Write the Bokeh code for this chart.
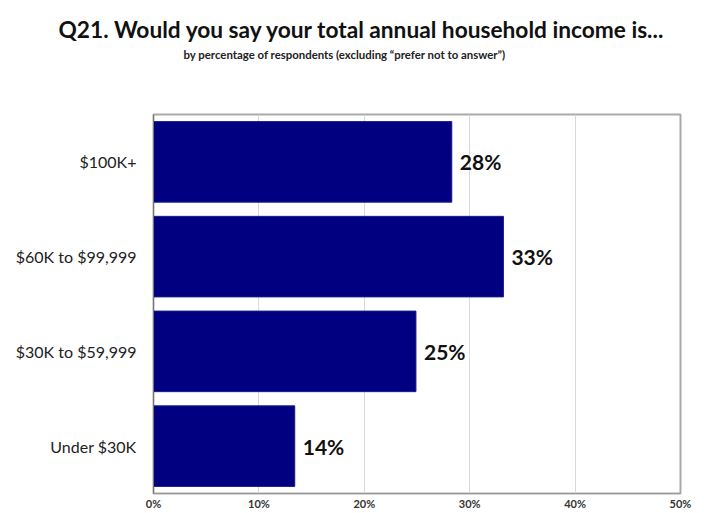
from bokeh.plotting import figure
from bokeh.models import Title, FixedTicker, PrintfTickFormatter, ColumnDataSource, FactorRange
from bokeh.core.properties import value
from bokeh.embed import file_html
from bokeh.resources import INLINE

categories = ["Under $30K", "$30K to $59,999", "$60K to $99,999", "$100K+"]
percentages = [13.4, 24.9, 33.2, 28.3]
value_labels = ["14%", "25%", "33%", "28%"]
x_ticks = [0, 10, 20, 30, 40, 50]

FONT = "Lato"

src = ColumnDataSource(dict(cat=categories, pct=percentages, lab=value_labels))

p = figure(width=704, height=513, y_range=FactorRange(*categories), x_range=(0, 50),
           output_backend="svg", toolbar_location=None,
           min_border_left=153, min_border_right=24, min_border_bottom=20, min_border_top=10)
p.title.visible = False

spacer_low = Title(text=" ", text_font_size="46px", standoff=0)
sub = Title(text="by percentage of respondents (excluding \u201cprefer not to answer\u201d)",
            align="left", text_font_size="11.4px", text_font_style="bold",
            text_font=FONT, text_color="#222222", standoff=0, offset=30)
main = Title(text="Q21. Would you say your total annual household income is...",
             align="left", text_font_size="22.7px", text_font_style="bold",
             text_font=FONT, text_color="#111111", standoff=5, offset=-95)
spacer_top = Title(text=" ", text_font_size="8px", standoff=0)
p.add_layout(spacer_low, "above")
p.add_layout(sub, "above")
p.add_layout(main, "above")
p.add_layout(spacer_top, "above")

p.hbar(y="cat", right="pct", left=0, height=0.85, source=src,
       fill_color="#000080", line_color="#1a1a8c", line_width=1)
p.text(x="pct", y="cat", text="lab", source=src, x_offset=8,
       text_baseline="middle", text_align="left",
       text_font=value(FONT), text_font_size="21px", text_font_style="bold",
       text_color="#111111")

p.xaxis.ticker = FixedTicker(ticks=x_ticks)
p.xaxis.formatter = PrintfTickFormatter(format="%d%%")
p.xaxis.major_label_text_font = FONT
p.xaxis.major_label_text_font_size = "11px"
p.xaxis.major_label_text_font_style = "bold"
p.xaxis.major_label_text_color = "#333333"
p.xaxis.major_tick_line_color = None
p.xaxis.minor_tick_line_color = None
p.xaxis.major_tick_out = 0
p.xaxis.major_tick_in = 0
p.xaxis.minor_tick_out = 0
p.xaxis.minor_tick_in = 0
p.xaxis.axis_line_color = "#999999"
p.xaxis.major_label_standoff = 3

p.yaxis.major_label_text_font = FONT
p.yaxis.major_label_text_font_size = "16px"
p.yaxis.major_label_text_color = "#222222"
p.yaxis.major_tick_line_color = None
p.yaxis.minor_tick_line_color = None
p.yaxis.major_tick_out = 0
p.yaxis.major_tick_in = 0
p.yaxis.axis_line_color = "#777777"
p.yaxis.major_label_standoff = 17

p.xgrid.grid_line_color = "#d9d9d9"
p.ygrid.grid_line_color = None
p.outline_line_color = "#aaaaaa"
p.outline_line_width = 2

open("out.html", "w").write(file_html(p, INLINE))
